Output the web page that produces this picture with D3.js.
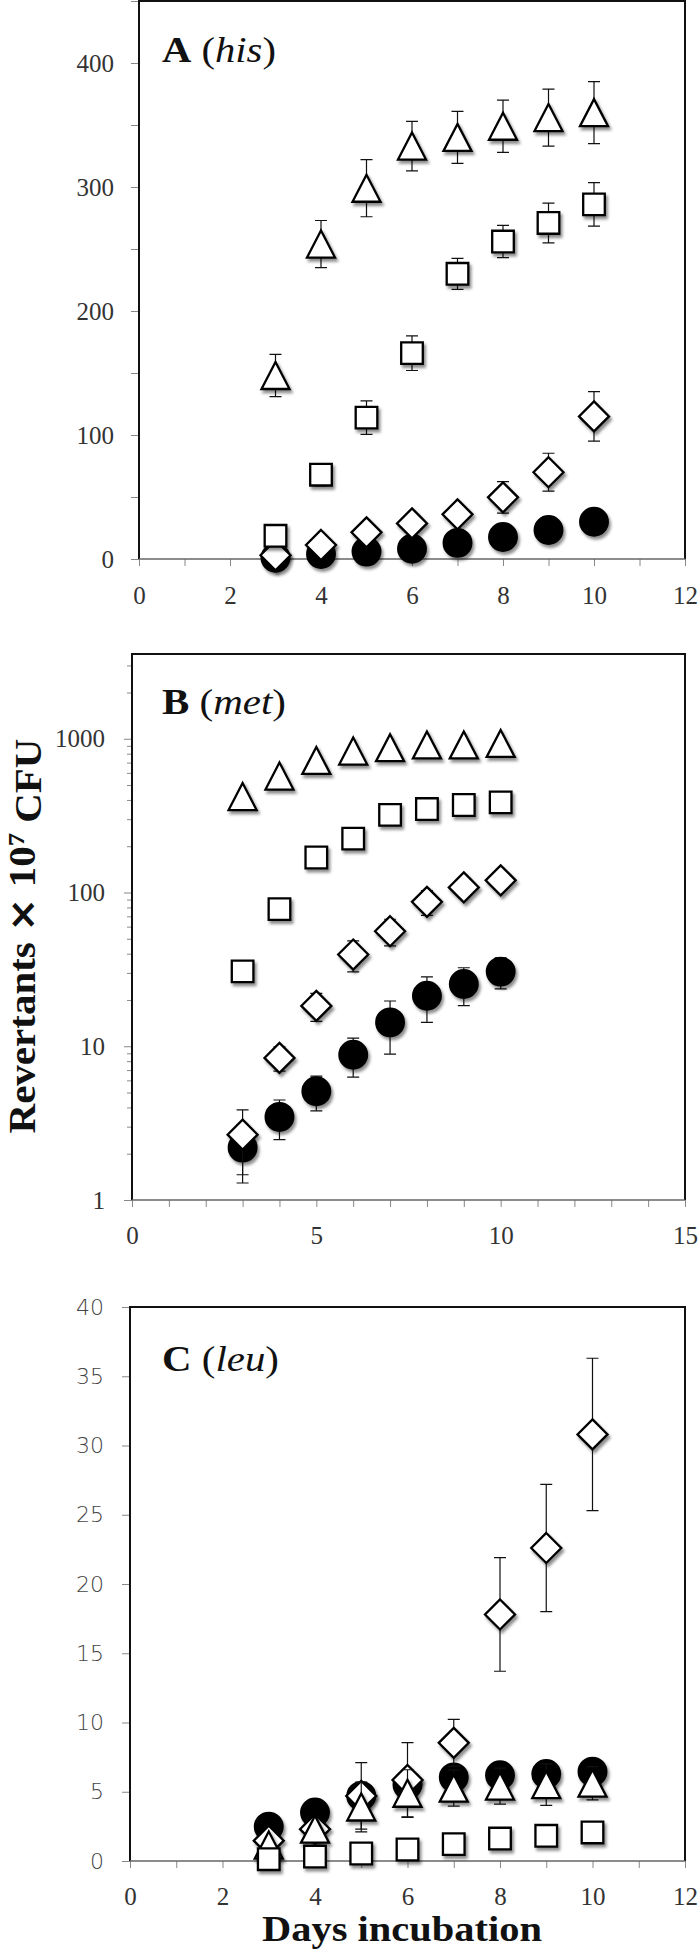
<!DOCTYPE html>
<html>
<head>
<meta charset="utf-8">
<script src="https://cdn.jsdelivr.net/npm/d3@7"></script>
<style>
  body { margin: 0; background: #fff; }
  .serif text { font-family: "Liberation Serif", "DejaVu Serif", serif; font-size: 25px; fill: #333; }
  .sans text { font-family: "DejaVu Sans", sans-serif; font-size: 22px; font-weight: 300; fill: #444; }
</style>
</head>
<body>
<div id="chart"></div>
<script>
var days = [3, 4, 5, 6, 7, 8, 9, 10];

// A (his)
var hisCircle      = [1, 4, 6, 8.3, 13, 17.7, 23.4, 30];
var hisCircleErr   = [0, 0, 0, 0, 0, 0, 0, 0];
var hisDiamond     = [3, 11.3, 21.5, 28.7, 36, 49.7, 70, 115];
var hisDiamondErr  = [0, 0, 0, 0, 7, 12.7, 15.3, 19.9];
var hisTriangle    = [148, 254, 299, 333, 340, 349, 356, 360];
var hisTriangleErr = [17, 19, 23, 20, 21, 21, 23, 25];
var hisSquare      = [18.7, 68, 114, 166, 230, 256, 271, 286];
var hisSquareErr   = [0, 9, 13.5, 14, 12.5, 13, 16, 17.5];

// B (met), log axis
var metCircle      = [2.19, 3.47, 5.1, 8.8, 14.3, 21.3, 25.4, 30.6];
var metCircleErr   = [0.9, 1, 1.3, 2.5, 5.4, 7, 7, 7];
var metDiamond     = [2.66, 8.4, 18.3, 39.5, 56, 87, 108, 120];
var metDiamondErr  = [1.2, 1.5, 3.8, 9, 11, 16, 10, 12];
var metTriangle    = [421, 572, 723, 832, 875, 912, 912, 933];
var metTriangleErr = [0, 0, 0, 0, 0, 0, 0, 0];
var metSquare      = [30.7, 78, 169, 224, 320, 349, 371, 386];
var metSquareErr   = [0, 0, 0, 0, 0, 0, 0, 0];

// C (leu)
var leuCircle      = [2.48, 3.5, 4.7, 5.5, 6.04, 6.19, 6.28, 6.45];
var leuCircleErr   = [0, 0, 0, 0, 0, 0, 0, 0];
var leuDiamond     = [1.47, 2.3, 4.7, 5.85, 8.53, 17.8, 22.6, 30.8];
var leuDiamondErr  = [0, 0, 2.4, 2.7, 1.7, 4.1, 4.6, 5.5];
var leuTriangle    = [1.15, 2.3, 3.9, 4.89, 5.26, 5.41, 5.51, 5.62];
var leuTriangleErr = [0, 0, 1.8, 1.7, 1.3, 1.3, 1.5, 1.2];
var leuSquare      = [0.13, 0.32, 0.54, 0.83, 1.22, 1.62, 1.82, 2.06];
var leuSquareErr   = [0, 0, 0, 0, 0, 0, 0, 0];

// axis ticks
var dayTicks12 = [0, 1, 2, 3, 4, 5, 6, 7, 8, 9, 10, 11, 12];
var dayLabels12 = [0, 2, 4, 6, 8, 10, 12];
var dayTicks15 = [0, 1, 2, 3, 4, 5, 6, 7, 8, 9, 10, 11, 12, 13, 14, 15];
var dayLabels15 = [0, 5, 10, 15];
var hisTicks = [0, 50, 100, 150, 200, 250, 300, 350, 400, 450];
var hisLabels = [0, 100, 200, 300, 400];
var metTicks = [1, 2, 3, 4, 5, 6, 7, 8, 9, 10, 20, 30, 40, 50, 60, 70, 80, 90,
                100, 200, 300, 400, 500, 600, 700, 800, 900, 1000, 2000, 3000];
var metLabels = [1, 10, 100, 1000];
var leuTicks = [0, 5, 10, 15, 20, 25, 30, 35, 40];

var width = 700, height = 1953;

var svg = d3.select('#chart')
  .append('svg')
    .attr('width', width)
    .attr('height', height);

var shadow = svg.append('defs').append('filter')
    .attr('id', 'shadow')
    .attr('x', '-50%').attr('y', '-50%')
    .attr('width', '200%').attr('height', '200%');
shadow.append('feDropShadow')
    .attr('dx', 2).attr('dy', 3)
    .attr('stdDeviation', 1.6)
    .attr('flood-color', '#000')
    .attr('flood-opacity', 0.45);

// marker paths, centred on their bounding box
function markerPath(shape) {
  if (shape == 'circle') return d3.symbol().type(d3.symbolCircle).size(Math.PI * 13.8 * 13.8)();
  if (shape == 'square') { var s = 10.8; return 'M' + -s + ',' + -s + 'H' + s + 'V' + s + 'H' + -s + 'Z'; }
  if (shape == 'triangle') { var w = 14, h = 13.5; return 'M0,' + -h + 'L' + w + ',' + h + 'H' + -w + 'Z'; }
  var d = 15; return 'M0,' + -d + 'L' + d + ',0L0,' + d + 'L' + -d + ',0Z';
}

// squeeze or stretch a text so it covers the wanted width
function fitWidth(text, target, anchorX, anchorY) {
  var w = text.node().getBBox().width;
  var k = target / w;
  text.attr('transform', 'translate(' + anchorX + ',' + anchorY + ') scale(' + k + ',1) translate(' + -anchorX + ',' + -anchorY + ')');
}

function drawPanel(p) {
  var x = d3.scaleLinear().domain(p.xDomain).range([p.left, p.right]);
  var y = (p.log ? d3.scaleLog() : d3.scaleLinear()).domain(p.yDomain).range([p.bottom, p.top]);

  var xAxis = svg.append('g')
      .attr('class', 'serif')
      .attr('transform', 'translate(0,' + p.bottom + ')')
      .call(d3.axisBottom(x)
        .tickValues(p.xTicks)
        .tickSizeInner(7).tickSizeOuter(0)
        .tickPadding(p.xPad)
        .tickFormat(function(d) { return p.xLabels.indexOf(d) >= 0 ? d : ''; }));
  xAxis.select('.domain').remove();
  xAxis.selectAll('line').attr('stroke', '#888');

  var yAxis = svg.append('g')
      .attr('class', p.yClass)
      .attr('transform', 'translate(' + p.left + ',0)')
      .call(d3.axisLeft(y)
        .tickValues(p.yTicks)
        .tickSizeInner(8).tickSizeOuter(0)
        .tickPadding(p.yPad)
        .tickFormat(function(d) { return p.yLabels.indexOf(d) >= 0 ? d : ''; }));
  yAxis.select('.domain').remove();
  yAxis.selectAll('line').attr('stroke', '#888');
  if (p.log) {
    yAxis.selectAll('.tick line')
      .attr('x2', function(d) { return p.yLabels.indexOf(d) >= 0 ? -8 : -5; });
  }

  // frame
  svg.append('path')
      .attr('d', 'M' + p.left + ',' + p.bottom + 'V' + p.top + 'H' + p.right + 'V' + p.bottom)
      .attr('fill', 'none')
      .attr('stroke', '#111')
      .attr('stroke-width', 2);
  svg.append('line')
      .attr('x1', p.left).attr('x2', p.right)
      .attr('y1', p.bottom).attr('y2', p.bottom)
      .attr('stroke', '#666')
      .attr('stroke-width', 1.6);

  p.series.forEach(function(s) {
    var pts = days.map(function(d, i) { return {day: d, v: s.values[i], e: s.err[i]}; });
    var err = svg.append('g')
        .attr('stroke', '#111')
        .attr('stroke-width', 1.2)
        .attr('fill', 'none');
    pts.filter(function(d) { return d.e > 0; }).forEach(function(d) {
      var cx = x(d.day);
      var lo = d.v - d.e > 0 ? y(d.v - d.e) : y(d.v);
      var hi = y(d.v + d.e);
      err.append('path')
        .attr('d', 'M' + cx + ',' + lo + 'V' + hi +
                   'M' + (cx - 6) + ',' + hi + 'H' + (cx + 6) +
                   (d.v - d.e > 0 ? 'M' + (cx - 6) + ',' + lo + 'H' + (cx + 6) : ''));
    });
    svg.append('g').selectAll('path')
      .data(pts)
      .enter().append('path')
        .attr('d', markerPath(s.shape))
        .attr('transform', function(d) { return 'translate(' + x(d.day) + ',' + y(d.v) + ')'; })
        .attr('fill', s.shape == 'circle' ? '#000' : '#fff')
        .attr('stroke', '#000')
        .attr('stroke-width', 2.3)
        .attr('filter', 'url(#shadow)');
  });

  // panel label
  var lab = svg.append('text')
      .attr('x', 162)
      .attr('y', p.labelY)
      .style('font-family', '"Liberation Serif", serif')
      .style('font-size', '36px')
      .attr('fill', '#111');
  lab.append('tspan').style('font-weight', 'bold').text(p.letter);
  lab.append('tspan').text(' (');
  lab.append('tspan').style('font-style', 'italic').text(p.gene);
  lab.append('tspan').text(')');
  fitWidth(lab, p.labelW, 162, p.labelY);
}

drawPanel({
  left: 139, right: 685, top: 1, bottom: 559,
  xDomain: [0, 12], xTicks: dayTicks12, xLabels: dayLabels12, xPad: 20,
  yDomain: [0, 450], yTicks: hisTicks, yLabels: hisLabels, yPad: 17, yClass: 'serif',
  letter: 'A', gene: 'his', labelY: 62, labelW: 114,
  series: [
    {shape: 'circle', values: hisCircle, err: hisCircleErr},
    {shape: 'diamond', values: hisDiamond, err: hisDiamondErr},
    {shape: 'triangle', values: hisTriangle, err: hisTriangleErr},
    {shape: 'square', values: hisSquare, err: hisSquareErr}
  ]
});

drawPanel({
  left: 132, right: 685, top: 654, bottom: 1200, log: true,
  xDomain: [0, 15], xTicks: dayTicks15, xLabels: dayLabels15, xPad: 19,
  yDomain: [1, 3560], yTicks: metTicks, yLabels: metLabels, yPad: 19, yClass: 'serif',
  letter: 'B', gene: 'met', labelY: 714, labelW: 124,
  series: [
    {shape: 'circle', values: metCircle, err: metCircleErr},
    {shape: 'diamond', values: metDiamond, err: metDiamondErr},
    {shape: 'triangle', values: metTriangle, err: metTriangleErr},
    {shape: 'square', values: metSquare, err: metSquareErr}
  ]
});

drawPanel({
  left: 130, right: 685, top: 1307, bottom: 1861,
  xDomain: [0, 12], xTicks: dayTicks12, xLabels: dayLabels12, xPad: 19,
  yDomain: [0, 40], yTicks: leuTicks, yLabels: leuTicks, yPad: 18, yClass: 'sans',
  letter: 'C', gene: 'leu', labelY: 1371, labelW: 117,
  series: [
    {shape: 'circle', values: leuCircle, err: leuCircleErr},
    {shape: 'diamond', values: leuDiamond, err: leuDiamondErr},
    {shape: 'triangle', values: leuTriangle, err: leuTriangleErr},
    {shape: 'square', values: leuSquare, err: leuSquareErr}
  ]
});

// y axis title
var yTitle = svg.append('text')
    .attr('text-anchor', 'middle')
    .style('font-family', '"Liberation Serif", serif')
    .style('font-size', '37px')
    .style('font-weight', 'bold')
    .attr('fill', '#111');
yTitle.append('tspan').text('Revertants ');
yTitle.append('tspan').style('font-family', '"DejaVu Sans", sans-serif').text('×');
yTitle.append('tspan').text(' 10');
yTitle.append('tspan').attr('dy', '-0.45em').style('font-size', '24px').text('7');
yTitle.append('tspan').attr('dy', '0.45em').text(' CFU');
var tw = yTitle.node().getBBox().width;
yTitle.attr('transform', 'translate(35,936) rotate(-90) scale(' + (395 / tw) + ',1)');

// x axis title
var xTitle = svg.append('text')
    .attr('x', 402)
    .attr('y', 1941)
    .attr('text-anchor', 'middle')
    .style('font-family', '"Liberation Serif", serif')
    .style('font-size', '36px')
    .style('font-weight', 'bold')
    .attr('fill', '#111')
    .text('Days incubation');
fitWidth(xTitle, 280, 402, 1941);
</script>
</body>
</html>
